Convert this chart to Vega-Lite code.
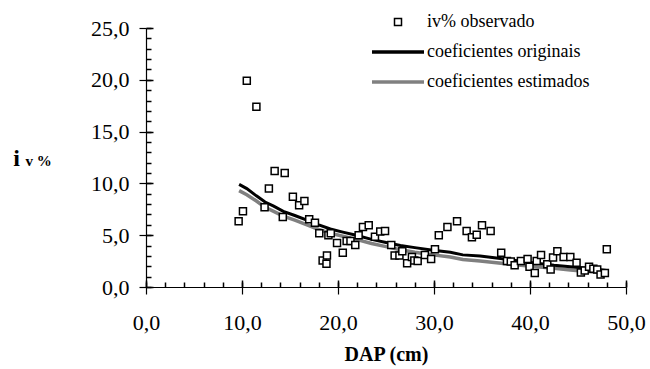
{
  "$schema": "https://vega.github.io/schema/vega-lite/v6.json",
  "width": 480,
  "height": 259,
  "autosize": {"type": "none"},
  "padding": {"left": 146, "top": 28, "right": 24, "bottom": 82},
  "background": "white",
  "config": {
    "view": {"stroke": null},
    "font": "Liberation Serif",
    "axis": {"grid": false, "labelFlush": false}
  },
  "datasets": {
    "obs": [
      {"dap": 9.65, "iv": 6.35}, {"dap": 10.1, "iv": 7.3}, {"dap": 10.5, "iv": 19.9}, {"dap": 11.5, "iv": 17.4},
      {"dap": 12.35, "iv": 7.7}, {"dap": 12.8, "iv": 9.5}, {"dap": 13.4, "iv": 11.2}, {"dap": 14.25, "iv": 6.75},
      {"dap": 14.45, "iv": 11.0}, {"dap": 15.3, "iv": 8.7}, {"dap": 15.95, "iv": 7.9}, {"dap": 16.5, "iv": 8.3},
      {"dap": 17.0, "iv": 6.55}, {"dap": 17.6, "iv": 6.2}, {"dap": 18.05, "iv": 5.2}, {"dap": 18.4, "iv": 2.55},
      {"dap": 18.8, "iv": 2.25}, {"dap": 18.85, "iv": 3.05}, {"dap": 19.0, "iv": 5.0}, {"dap": 19.25, "iv": 5.2},
      {"dap": 19.9, "iv": 4.25}, {"dap": 20.5, "iv": 3.3}, {"dap": 20.9, "iv": 4.45}, {"dap": 21.3, "iv": 4.45},
      {"dap": 21.8, "iv": 4.05}, {"dap": 22.15, "iv": 5.0}, {"dap": 22.6, "iv": 5.8}, {"dap": 23.2, "iv": 5.95},
      {"dap": 23.85, "iv": 4.85}, {"dap": 24.4, "iv": 5.35}, {"dap": 24.9, "iv": 5.4}, {"dap": 25.55, "iv": 4.05},
      {"dap": 25.9, "iv": 3.05}, {"dap": 26.4, "iv": 3.05}, {"dap": 26.7, "iv": 3.45}, {"dap": 27.2, "iv": 2.3},
      {"dap": 27.7, "iv": 2.9}, {"dap": 27.95, "iv": 2.55}, {"dap": 28.3, "iv": 2.5}, {"dap": 29.05, "iv": 3.1},
      {"dap": 29.7, "iv": 2.7}, {"dap": 30.1, "iv": 3.65}, {"dap": 30.5, "iv": 5.0}, {"dap": 31.4, "iv": 5.8},
      {"dap": 32.4, "iv": 6.35}, {"dap": 33.4, "iv": 5.4}, {"dap": 33.95, "iv": 4.8}, {"dap": 34.45, "iv": 5.05},
      {"dap": 35.0, "iv": 5.95}, {"dap": 35.9, "iv": 5.4}, {"dap": 37.0, "iv": 3.3}, {"dap": 37.6, "iv": 2.5},
      {"dap": 38.0, "iv": 2.45}, {"dap": 38.4, "iv": 2.1}, {"dap": 39.05, "iv": 2.5}, {"dap": 39.75, "iv": 2.7},
      {"dap": 39.95, "iv": 1.95}, {"dap": 40.5, "iv": 1.35}, {"dap": 40.7, "iv": 2.5}, {"dap": 41.15, "iv": 3.1},
      {"dap": 41.8, "iv": 2.2}, {"dap": 42.15, "iv": 1.7}, {"dap": 42.4, "iv": 2.85}, {"dap": 42.85, "iv": 3.45},
      {"dap": 43.5, "iv": 2.9}, {"dap": 44.2, "iv": 2.9}, {"dap": 44.85, "iv": 2.35}, {"dap": 45.3, "iv": 1.4},
      {"dap": 45.7, "iv": 1.6}, {"dap": 46.15, "iv": 1.95}, {"dap": 46.6, "iv": 1.75}, {"dap": 47.0, "iv": 1.7},
      {"dap": 47.35, "iv": 1.2}, {"dap": 47.8, "iv": 1.35}, {"dap": 48.0, "iv": 3.65}
    ],
    "orig": [
      {"dap": 9.7, "iv": 9.9}, {"dap": 10.5, "iv": 9.5}, {"dap": 11.5, "iv": 8.8}, {"dap": 12.4, "iv": 8.2},
      {"dap": 13.3, "iv": 7.8}, {"dap": 14.3, "iv": 7.3}, {"dap": 15.5, "iv": 6.9}, {"dap": 16.9, "iv": 6.4},
      {"dap": 18.0, "iv": 6.0}, {"dap": 19.2, "iv": 5.6}, {"dap": 20.5, "iv": 5.3}, {"dap": 21.9, "iv": 5.0},
      {"dap": 23.5, "iv": 4.6}, {"dap": 25.0, "iv": 4.3}, {"dap": 26.5, "iv": 4.0}, {"dap": 28.0, "iv": 3.8},
      {"dap": 29.9, "iv": 3.55}, {"dap": 31.7, "iv": 3.35}, {"dap": 33.0, "iv": 3.1}, {"dap": 34.8, "iv": 3.0},
      {"dap": 36.5, "iv": 2.8}, {"dap": 38.5, "iv": 2.55}, {"dap": 40.7, "iv": 2.3}, {"dap": 42.5, "iv": 2.1},
      {"dap": 44.2, "iv": 1.95}, {"dap": 46.0, "iv": 1.8}, {"dap": 48.0, "iv": 1.6}
    ],
    "est": [
      {"dap": 9.7, "iv": 9.3}, {"dap": 10.5, "iv": 8.9}, {"dap": 11.5, "iv": 8.3}, {"dap": 12.4, "iv": 7.7},
      {"dap": 13.3, "iv": 7.3}, {"dap": 14.3, "iv": 6.85}, {"dap": 15.5, "iv": 6.45}, {"dap": 16.9, "iv": 5.95},
      {"dap": 18.0, "iv": 5.55}, {"dap": 19.2, "iv": 5.2}, {"dap": 20.5, "iv": 4.9}, {"dap": 21.9, "iv": 4.6},
      {"dap": 23.5, "iv": 4.2}, {"dap": 25.0, "iv": 3.9}, {"dap": 26.5, "iv": 3.6}, {"dap": 28.0, "iv": 3.35},
      {"dap": 29.9, "iv": 3.1}, {"dap": 31.7, "iv": 2.9}, {"dap": 33.0, "iv": 2.65}, {"dap": 34.8, "iv": 2.5},
      {"dap": 36.5, "iv": 2.35}, {"dap": 38.5, "iv": 2.15}, {"dap": 40.7, "iv": 1.95}, {"dap": 42.5, "iv": 1.8},
      {"dap": 44.2, "iv": 1.65}, {"dap": 46.0, "iv": 1.5}, {"dap": 48.0, "iv": 1.35}
    ]
  },
  "layer": [
    {
      "data": {"name": "est"},
      "mark": {"type": "line", "strokeWidth": 3.5},
      "encoding": {
        "x": {"field": "dap", "type": "quantitative", "scale": {"domain": [0, 50], "nice": false},
              "axis": {"orient": "bottom", "values": [0, 10, 20, 30, 40, 50], "tickSize": -7, "tickColor": "black", "tickWidth": 1.5, "zindex": 1, "labels": false, "domain": false, "title": null}},
        "y": {"field": "iv", "type": "quantitative", "scale": {"domain": [0, 25], "nice": false},
              "axis": {"orient": "left", "values": [0, 5, 10, 15, 20, 25], "tickSize": -7, "tickColor": "black", "tickWidth": 1.5, "zindex": 1, "labels": false, "domain": false, "title": null}},
        "stroke": {"datum": "coeficientes estimados", "type": "nominal",
                   "scale": {"domain": ["iv% observado", "coeficientes originais", "coeficientes estimados"], "range": ["black", "black", "#808080"]},
                   "legend": {
                     "orient": "none", "legendX": 243, "legendY": -15, "title": null, "padding": 0,
                     "symbolSize": 100, "symbolType": "square", "labelOffset": 20, "rowPadding": 12,
                     "labelFontSize": 18, "labelFont": "Liberation Serif", "labelColor": "black", "labelLimit": 400,
                     "encode": {"symbols": {"update": {
                       "shape": {"signal": "datum.value === 'iv% observado' ? 'square' : 'M-5.2,0H5.2'"},
                       "size": {"signal": "datum.value === 'iv% observado' ? 49 : 100"},
                       "strokeWidth": {"signal": "datum.value === 'iv% observado' ? 1.5 : 3.5"},
                       "fill": {"value": "white"},
                       "opacity": {"value": 1}
                     }}}
                   }}
      }
    },
    {
      "data": {"name": "orig"},
      "mark": {"type": "line", "strokeWidth": 3},
      "encoding": {
        "x": {"field": "dap", "type": "quantitative",
              "axis": {"orient": "bottom", "values": [0, 2, 4, 6, 8, 10, 12, 14, 16, 18, 20, 22, 24, 26, 28, 30, 32, 34, 36, 38, 40, 42, 44, 46, 48, 50], "tickSize": 5, "offset": -5, "tickColor": "black", "tickWidth": 1.5, "zindex": 1, "labels": false, "domain": false, "title": null}},
        "y": {"field": "iv", "type": "quantitative",
              "axis": {"orient": "left", "values": [0, 1, 2, 3, 4, 5, 6, 7, 8, 9, 10, 11, 12, 13, 14, 15, 16, 17, 18, 19, 20, 21, 22, 23, 24, 25], "tickSize": 5, "offset": -5, "tickColor": "black", "tickWidth": 1.5, "zindex": 1, "labels": false, "domain": false,
                       "title": "v %", "titleAngle": 0, "titleX": -126, "titleY": 137, "titleAlign": "left", "titleBaseline": "alphabetic", "titleFontSize": 15, "titleFontWeight": "bold", "titleColor": "black"}},
        "stroke": {"datum": "coeficientes originais", "type": "nominal"}
      }
    },
    {
      "data": {"name": "obs"},
      "mark": {"type": "point", "shape": "square", "size": 49, "filled": true, "fill": "white", "strokeWidth": 1.5, "opacity": 1},
      "encoding": {
        "x": {"field": "dap", "type": "quantitative",
              "axis": {"orient": "bottom", "values": [0, 10, 20, 30, 40, 50], "tickSize": 7, "tickColor": "black", "tickWidth": 1.2, "domainColor": "black", "domainWidth": 1.2, "labelFontSize": 22, "labelPadding": 18, "labelColor": "black",
                       "labelExpr": "replace(format(datum.value, '.1f'), '.', ',')",
                       "title": "DAP (cm)", "titleFontSize": 20, "titleFontWeight": "bold", "titlePadding": 11, "titleColor": "black"}},
        "y": {"field": "iv", "type": "quantitative",
              "axis": {"orient": "left", "values": [0, 5, 10, 15, 20, 25], "tickSize": 7, "tickColor": "black", "tickWidth": 1.2, "domainColor": "black", "domainWidth": 1.2, "labelFontSize": 22, "labelPadding": 10, "labelColor": "black",
                       "labelExpr": "replace(format(datum.value, '.1f'), '.', ',')",
                       "title": "i", "titleAngle": 0, "titleX": -130, "titleY": 137, "titleAlign": "center", "titleBaseline": "alphabetic", "titleFontSize": 24, "titleFontWeight": "bold", "titleColor": "black"}},
        "stroke": {"datum": "iv% observado", "type": "nominal"}
      }
    }
  ],
  "resolve": {"axis": {"x": "independent", "y": "independent"}}
}
